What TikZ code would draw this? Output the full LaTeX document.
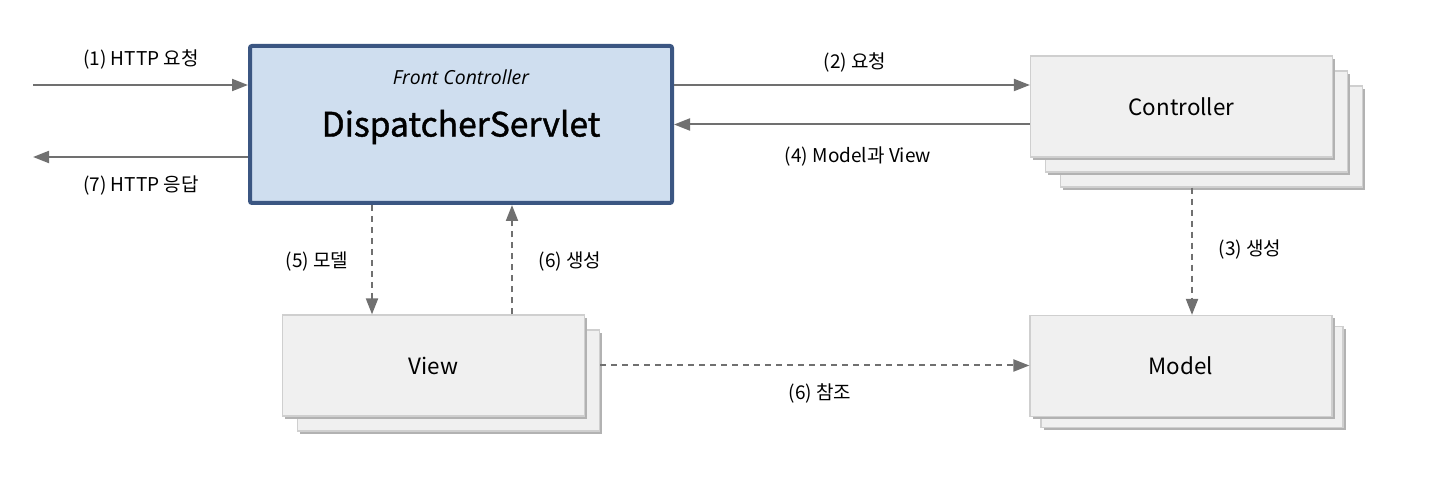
\documentclass[tikz,border=0pt]{standalone}
\usepackage{fontspec}
\setmainfont{Noto Sans CJK KR}
\newfontfamily\itfont{Open Sans}
\newfontfamily\dsfont{Noto Sans CJK KR}[FakeBold=1.2]
\usetikzlibrary{arrows.meta,shadows}
\definecolor{arrowgray}{HTML}{707070}
\definecolor{dsblue}{HTML}{3B5682}
\definecolor{dsfill}{HTML}{CFDEEF}
\definecolor{boxfill}{HTML}{F0F0F0}
\definecolor{boxline}{HTML}{CFCFCF}
\begin{document}
\begin{tikzpicture}[x=0.5pt,y=-0.5pt]

      \tikzset{mainbox/.style={draw=dsblue, line width=2pt, fill=dsfill, rounded corners=1pt, minimum width=211pt, minimum height=78.5pt, inner sep=0pt},
               stackbox/.style={draw=boxline, fill=boxfill, line width=0.6pt, minimum width=151pt, minimum height=50.5pt, inner sep=0pt, font=\fontsize{11.2}{13}\selectfont, drop shadow={shadow xshift=1.4pt, shadow yshift=-1.4pt, fill=black!30, opacity=1}},
               flow/.style={draw=arrowgray, line width=1pt, -{Triangle[length=8pt,width=6pt]}},
               dflow/.style={flow, dash pattern=on 3pt off 2.5pt},
               lbl/.style={font=\fontsize{9.5}{11}\selectfont, inner sep=1pt}}
      \useasboundingbox (0,0) rectangle (1432,486);
% Boxes
	%Front controller
      	\node[mainbox] (ds) at (461,124.5) {};
      	\node[font=\itfont\itshape\fontsize{9.7}{11}\selectfont] (fc) at (461,77) {Front Controller};
      	\node[font=\dsfont\fontsize{16.8}{18}\selectfont] (dsname) at (461,127) {DispatcherServlet};
	%Controller
      	\node[stackbox] (ctrlc) at (1211.5,136.5) {};
      	\node[stackbox] (ctrlb) at (1196.5,121.5) {};
      	\node[stackbox] (ctrl) at (1181.5,106.5) {Controller};
	%View
      	\node[stackbox] (viewb) at (448.5,380.5) {};
      	\node[stackbox] (view) at (433.5,365.5) {View};
	%Model
      	\node[stackbox] (modelb) at (1192,377) {};
      	\node[stackbox] (model) at (1181,366) {Model};

% Ends
      	\coordinate (in) at (33,85);
      	\coordinate (out) at (33,157);
      	\coordinate (c5) at (372,0);
      	\coordinate (c6) at (512,0);
      	\coordinate (c3) at (1192,0);

%Edges
	%Solid
		\draw[flow] (in) -- (in -| ds.west);
		\draw[flow] (out -| ds.west) -- (out);
		\draw[flow] (ds.east |- in) -- (ctrl.west |- in);
		\draw[flow] (ctrl.west |- ds.east) -- (ds.east);
	%Dashed
		\draw[dflow] (ctrlc.south -| c3) -- (model.north -| c3);
		\draw[dflow] (ds.south -| c5) -- (view.north -| c5);
		\draw[dflow] (view.north -| c6) -- (ds.south -| c6);
		\draw[dflow] (viewb.east |- view.east) -- (model.west |- view.east);

% Labels
		\node[lbl] (l1) at (141,59) {(1) HTTP 요청};
		\node[lbl] (l7) at (141,186) {(7) HTTP 응답};
		\node[lbl] (l2) at (855,62) {(2) 요청};
		\node[lbl] (l4) at (858,157) {(4) Model과 View};
		\node[lbl] (l3) at (1250,250) {(3) 생성};
		\node[lbl] (l5) at (317,262) {(5) 모델};
		\node[lbl] (l6a) at (570,262) {(6) 생성};
		\node[lbl] (l6b) at (820,393) {(6) 참조};

	\end{tikzpicture}
\end{document}
